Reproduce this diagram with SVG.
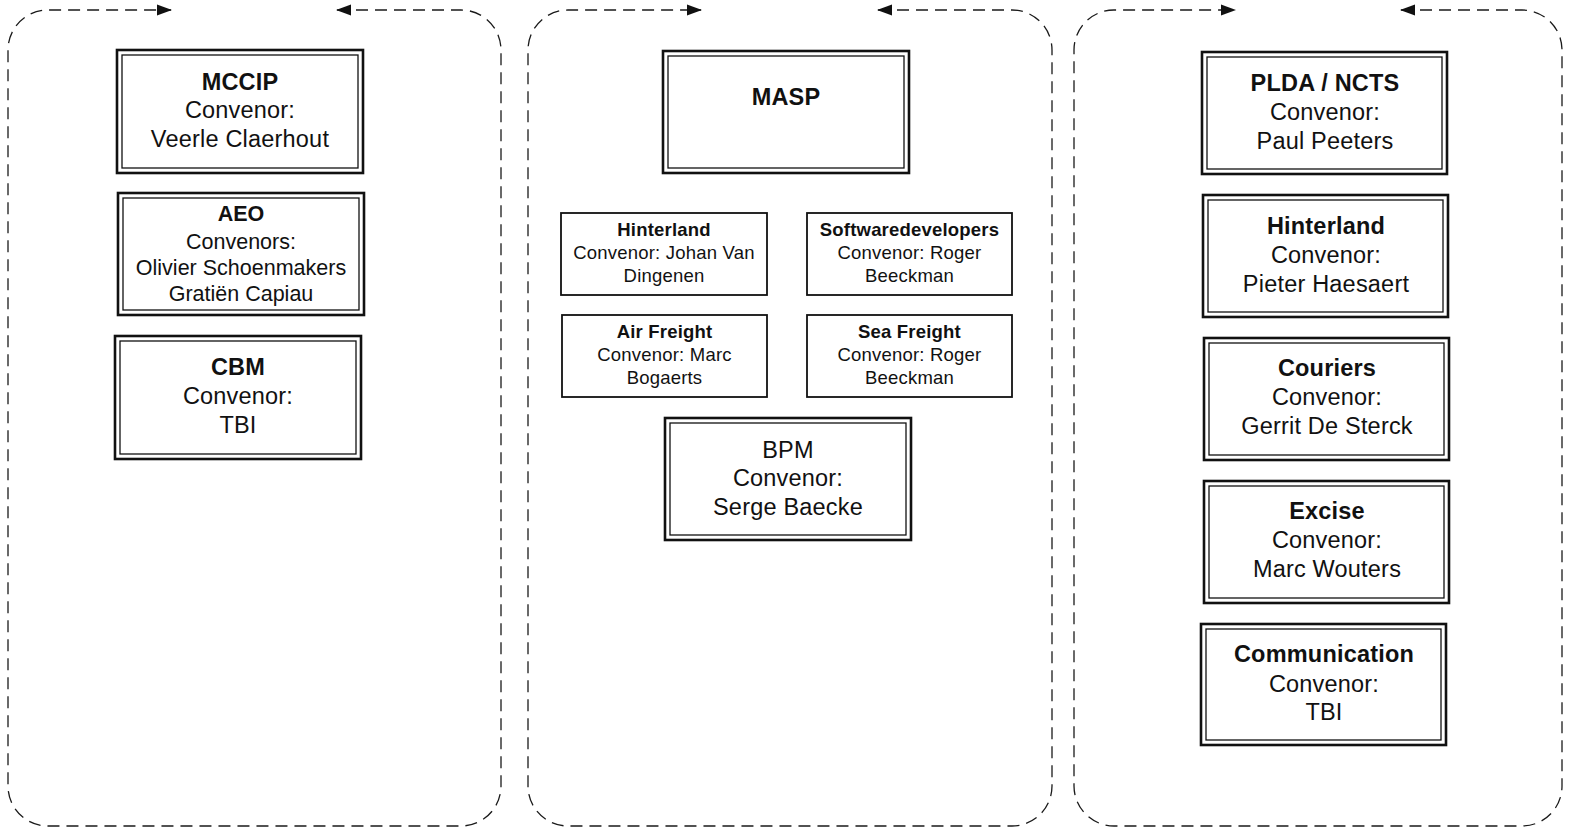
<svg xmlns="http://www.w3.org/2000/svg" width="1569" height="832" viewBox="0 0 1569 832">
<style>
.bg{fill:#fff}
.panel{fill:none;stroke:#1a1a1a;stroke-width:1.3;stroke-dasharray:12 7}
.o{fill:#fff;stroke:#111;stroke-width:2.6}
.i{fill:none;stroke:#111;stroke-width:1.3}
.s{fill:#fff;stroke:#111;stroke-width:1.8}
text{font-family:"Liberation Sans",Arial,sans-serif;fill:#111;text-anchor:middle}
.L{font-size:23.5px;letter-spacing:0.2px}
.M{font-size:21.5px}
.S{font-size:18.5px;letter-spacing:0.2px}
.b{font-weight:bold}
</style>
<defs>
<marker id="ah" markerWidth="15" markerHeight="12" refX="14" refY="6" orient="auto-start-reverse" markerUnits="userSpaceOnUse">
<path d="M0,0.5 L15,6 L0,11.5 Z" fill="#111"/>
</marker>
</defs>
<rect class="bg" width="1569" height="832"/>
<g id="connectors">
<path class="panel" marker-start="url(#ah)" marker-end="url(#ah)" d="M337,10 H461 A40,40 0 0 1 501,50 V786 A40,40 0 0 1 461,826 H48 A40,40 0 0 1 8,786 V50 A40,40 0 0 1 48,10 H171"/>
<path class="panel" marker-start="url(#ah)" marker-end="url(#ah)" d="M878,10 H1012 A40,40 0 0 1 1052,50 V786 A40,40 0 0 1 1012,826 H568 A40,40 0 0 1 528,786 V50 A40,40 0 0 1 568,10 H701"/>
<path class="panel" marker-start="url(#ah)" marker-end="url(#ah)" d="M1401,10 H1522 A40,40 0 0 1 1562,50 V786 A40,40 0 0 1 1522,826 H1114 A40,40 0 0 1 1074,786 V50 A40,40 0 0 1 1114,10 H1235"/>
</g>
<g id="mccip">
<rect class="o" x="117" y="50" width="246" height="123"/>
<rect class="i" x="122" y="55" width="236" height="113"/>
<text class="L b" x="240" y="90">MCCIP</text>
<text class="L" x="240" y="118">Convenor:</text>
<text class="L" x="240" y="147">Veerle Claerhout</text>
</g>
<g id="aeo">
<rect class="o" x="118" y="193" width="246" height="122"/>
<rect class="i" x="123" y="198" width="236" height="112"/>
<text class="M b" x="241" y="221">AEO</text>
<text class="M" x="241" y="249">Convenors:</text>
<text class="M" x="241" y="275">Olivier Schoenmakers</text>
<text class="M" x="241" y="301">Gratiën Capiau</text>
</g>
<g id="cbm">
<rect class="o" x="115" y="336" width="246" height="123"/>
<rect class="i" x="120" y="341" width="236" height="113"/>
<text class="L b" x="238" y="375">CBM</text>
<text class="L" x="238" y="404">Convenor:</text>
<text class="L" x="238" y="433">TBI</text>
</g>
<g id="masp">
<rect class="o" x="663" y="51" width="246" height="122"/>
<rect class="i" x="668" y="56" width="236" height="112"/>
<text class="L b" x="786" y="105">MASP</text>
</g>
<g id="hinterland-masp">
<rect class="s" x="561" y="213" width="206" height="82"/>
<text class="S b" x="664" y="236">Hinterland</text>
<text class="S" x="664" y="259">Convenor: Johan Van</text>
<text class="S" x="664" y="282">Dingenen</text>
</g>
<g id="softwaredevelopers">
<rect class="s" x="807" y="213" width="205" height="82"/>
<text class="S b" x="909.5" y="236">Softwaredevelopers</text>
<text class="S" x="909.5" y="259">Convenor: Roger</text>
<text class="S" x="909.5" y="282">Beeckman</text>
</g>
<g id="airfreight">
<rect class="s" x="562" y="315" width="205" height="82"/>
<text class="S b" x="664.5" y="338">Air Freight</text>
<text class="S" x="664.5" y="361">Convenor: Marc</text>
<text class="S" x="664.5" y="384">Bogaerts</text>
</g>
<g id="seafreight">
<rect class="s" x="807" y="315" width="205" height="82"/>
<text class="S b" x="909.5" y="338">Sea Freight</text>
<text class="S" x="909.5" y="361">Convenor: Roger</text>
<text class="S" x="909.5" y="384">Beeckman</text>
</g>
<g id="bpm">
<rect class="o" x="665" y="418" width="246" height="122"/>
<rect class="i" x="670" y="423" width="236" height="112"/>
<text class="L" x="788" y="458">BPM</text>
<text class="L" x="788" y="486">Convenor:</text>
<text class="L" x="788" y="515">Serge Baecke</text>
</g>
<g id="plda">
<rect class="o" x="1202" y="52" width="245" height="122"/>
<rect class="i" x="1207" y="57" width="235" height="112"/>
<text class="L b" x="1325" y="91">PLDA / NCTS</text>
<text class="L" x="1325" y="120">Convenor:</text>
<text class="L" x="1325" y="149">Paul Peeters</text>
</g>
<g id="hinterland">
<rect class="o" x="1203" y="195" width="245" height="122"/>
<rect class="i" x="1208" y="200" width="235" height="112"/>
<text class="L b" x="1326" y="234">Hinterland</text>
<text class="L" x="1326" y="263">Convenor:</text>
<text class="L" x="1326" y="292">Pieter Haesaert</text>
</g>
<g id="couriers">
<rect class="o" x="1204" y="338" width="245" height="122"/>
<rect class="i" x="1209" y="343" width="235" height="112"/>
<text class="L b" x="1327" y="376">Couriers</text>
<text class="L" x="1327" y="405">Convenor:</text>
<text class="L" x="1327" y="434">Gerrit De Sterck</text>
</g>
<g id="excise">
<rect class="o" x="1204" y="481" width="245" height="122"/>
<rect class="i" x="1209" y="486" width="235" height="112"/>
<text class="L b" x="1327" y="519">Excise</text>
<text class="L" x="1327" y="548">Convenor:</text>
<text class="L" x="1327" y="577">Marc Wouters</text>
</g>
<g id="communication">
<rect class="o" x="1201" y="624" width="245" height="121"/>
<rect class="i" x="1206" y="629" width="235" height="111"/>
<text class="L b" x="1324" y="662">Communication</text>
<text class="L" x="1324" y="692">Convenor:</text>
<text class="L" x="1324" y="720">TBI</text>
</g>
</svg>
